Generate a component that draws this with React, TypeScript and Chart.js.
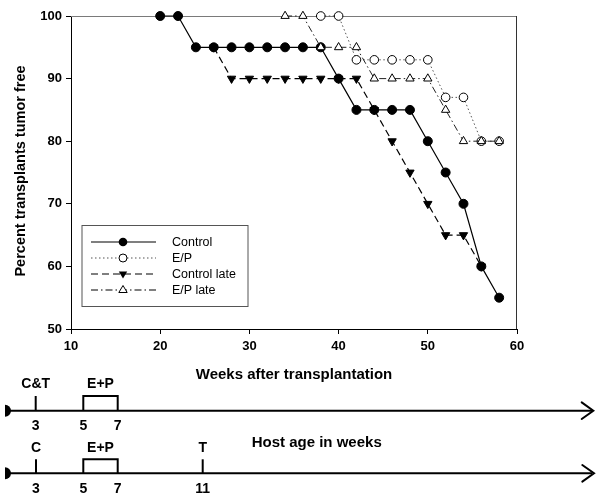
import React, { useEffect, useRef } from "react";
import { Chart, registerables } from "chart.js";

Chart.register(...registerables);

// ---- Data ----
const controlWeeks = [20, 22, 24, 26, 28, 30, 32, 34, 36, 38, 40, 42, 44, 46, 48, 50, 52, 54, 56, 58];
const controlValues = [100, 100, 95, 95, 95, 95, 95, 95, 95, 95, 90, 85, 85, 85, 85, 80, 75, 70, 60, 55];
const epWeeks = [38, 40, 42, 44, 46, 48, 50, 52, 54, 56, 58];
const epValues = [100, 100, 93, 93, 93, 93, 93, 87, 87, 80, 80];
const controlLateWeeks = [26, 28, 30, 32, 34, 36, 38, 40, 42, 44, 46, 48, 50, 52, 54, 56];
const controlLateValues = [95, 90, 90, 90, 90, 90, 90, 90, 90, 85, 80, 75, 70, 65, 65, 60];
const epLateWeeks = [34, 36, 38, 40, 42, 44, 46, 48, 50, 52, 54, 56, 58];
const epLateValues = [100, 100, 95, 95, 95, 90, 90, 90, 90, 85, 80, 80, 80];
const seriesNames = ["Control", "E/P", "Control late", "E/P late"];
const xMin = 10;
const xMax = 60;
const xStep = 10;
const yMin = 50;
const yMax = 100;
const yStep = 10;
const xTitle = "Weeks after transplantation";
const yTitle = "Percent transplants tumor free";
const timeline1Labels = ["C&T", "E+P"];
const timeline1Numbers = ["3", "5", "7"];
const timeline2Labels = ["C", "E+P", "T"];
const timeline2Numbers = ["3", "5", "7", "11"];
const timeline2Title = "Host age in weeks";

const FONT = '"Liberation Sans", Arial, Helvetica, sans-serif';

const pts = (xs: number[], ys: number[]) => xs.map((x, i) => ({ x, y: ys[i] }));

const framePlugin = {
  id: "frame",
  beforeDatasetsDraw(chart: any) {
    const { ctx, chartArea } = chart;
    const { left, top, right, bottom } = chartArea;
    ctx.save();
    ctx.lineWidth = 1;
    ctx.strokeStyle = "#7a7a7a";
    ctx.beginPath();
    ctx.moveTo(left, Math.round(top) + 0.5);
    ctx.lineTo(right, Math.round(top) + 0.5);
    ctx.stroke();
    ctx.strokeStyle = "#333";
    ctx.beginPath();
    ctx.moveTo(Math.round(right) - 0.5, top);
    ctx.lineTo(Math.round(right) - 0.5, bottom);
    ctx.stroke();
    ctx.restore();
  },
};

const dashControlLate = [7, 4];
const dashEP = [1.5, 2.5];
const dashEPLate = [7, 3, 1.5, 3];

function ChartCanvas() {
  const ref = useRef<HTMLCanvasElement | null>(null);
  useEffect(() => {
    if (!ref.current) return;
    const tickFont = { family: FONT, size: 13, weight: "bold" as const };
    const chart = new Chart(ref.current, {
      type: "line",
      data: {
        datasets: [
          {
            label: seriesNames[3],
            data: pts(epLateWeeks, epLateValues),
            borderColor: "#222",
            borderWidth: 1,
            borderDash: dashEPLate,
            pointStyle: "triangle",
            pointRadius: 4.8,
            pointBackgroundColor: "#fff",
            pointBorderColor: "#000",
            pointBorderWidth: 1,
            order: 0,
            clip: false,
          } as any,
          {
            label: seriesNames[0],
            data: pts(controlWeeks, controlValues),
            borderColor: "#000",
            borderWidth: 1.2,
            pointStyle: "circle",
            pointRadius: 4.5,
            pointBackgroundColor: "#000",
            pointBorderColor: "#000",
            pointBorderWidth: 1,
            order: 1,
            clip: false,
          } as any,
          {
            label: seriesNames[1],
            data: pts(epWeeks, epValues),
            borderColor: "#555",
            borderWidth: 1,
            borderDash: dashEP,
            pointStyle: "circle",
            pointRadius: 4.3,
            pointBackgroundColor: "#fff",
            pointBorderColor: "#000",
            pointBorderWidth: 1,
            order: 2,
            clip: false,
          } as any,
          {
            label: seriesNames[2],
            data: pts(controlLateWeeks, controlLateValues),
            borderColor: "#000",
            borderWidth: 1.2,
            borderDash: dashControlLate,
            pointStyle: "triangle",
            pointRotation: 180,
            pointRadius: 4.8,
            pointBackgroundColor: "#000",
            pointBorderColor: "#000",
            pointBorderWidth: 1,
            order: 3,
            clip: false,
          } as any,
        ],
      },
      options: {
        animation: false,
        responsive: false,
        maintainAspectRatio: false,
        devicePixelRatio: 1,
        layout: { padding: { left: 0, top: 16, right: 83, bottom: 0 } },
        plugins: { legend: { display: false }, tooltip: { enabled: false }, title: { display: false } },
        elements: { line: { tension: 0 } },
        scales: {
          x: {
            type: "linear",
            min: xMin,
            max: xMax,
            ticks: { stepSize: xStep, font: tickFont, color: "#000", padding: 5, maxRotation: 0 },
            grid: { display: true, drawOnChartArea: false, drawTicks: true, tickLength: 5, color: "#000" },
            border: { display: true, color: "#000", width: 1 },
            afterFit: (s: any) => {
              s.height = 172;
            },
          },
          y: {
            type: "linear",
            min: yMin,
            max: yMax,
            ticks: { stepSize: yStep, font: tickFont, color: "#000", padding: 4 },
            grid: { display: true, drawOnChartArea: false, drawTicks: true, tickLength: 5, color: "#000" },
            border: { display: true, color: "#000", width: 1 },
            afterFit: (s: any) => {
              s.width = 71;
            },
          },
        },
      },
      plugins: [framePlugin],
    });
    return () => chart.destroy();
  }, []);
  return (
    <canvas
      ref={ref}
      width={600}
      height={501}
      style={{ position: "absolute", left: 0, top: 0, width: 600, height: 501 }}
    />
  );
}

function LegendSample({ y, dash, marker }: { y: number; dash?: number[]; marker: string }) {
  const x1 = 91;
  const x2 = 156;
  const cx = 123;
  let m: any = null;
  if (marker === "fcircle") m = <circle cx={cx} cy={y} r={4.3} fill="#000" />;
  if (marker === "ocircle") m = <circle cx={cx} cy={y} r={4} fill="#fff" stroke="#000" strokeWidth={1} />;
  if (marker === "dtri")
    m = <polygon points={`${cx - 4.2},${y - 2.5} ${cx + 4.2},${y - 2.5} ${cx},${y + 4.5}`} fill="#000" />;
  if (marker === "utri")
    m = (
      <polygon
        points={`${cx - 4.2},${y + 2.5} ${cx + 4.2},${y + 2.5} ${cx},${y - 4.5}`}
        fill="#fff"
        stroke="#000"
        strokeWidth={1}
      />
    );
  return (
    <g>
      <line
        x1={x1}
        y1={y}
        x2={x2}
        y2={y}
        stroke={marker === "ocircle" ? "#555" : "#000"}
        strokeWidth={1.2}
        strokeDasharray={dash ? dash.join(" ") : undefined}
      />
      {m}
    </g>
  );
}

function Overlay() {
  const rows = [242, 258, 274, 290];
  const bold14 = { fontFamily: FONT, fontWeight: 700, fontSize: 14 } as any;
  const line1 = 410.7;
  const line2 = 473.3;
  const xs1 = [35.7, 83.3, 117.7];
  const xs2 = [36, 83.3, 117.7, 202.7];
  return (
    <svg
      width={600}
      height={501}
      style={{ position: "absolute", left: 0, top: 0, pointerEvents: "none" }}
    >
      {/* axis titles */}
      <text
        x={20}
        y={171}
        transform="rotate(-90 20 171)"
        textAnchor="middle"
        dominantBaseline="central"
        style={{ fontFamily: FONT, fontWeight: 700, fontSize: 14.5 }}
        fill="#000"
      >
        {yTitle}
      </text>
      <text
        x={294}
        y={373}
        textAnchor="middle"
        dominantBaseline="central"
        style={{ fontFamily: FONT, fontWeight: 700, fontSize: 15 }}
        fill="#000"
      >
        {xTitle}
      </text>

      {/* legend */}
      <rect x={82} y={225.5} width={166} height={81} fill="#fff" stroke="#555" strokeWidth={1} />
      <LegendSample y={rows[0]} marker="fcircle" />
      <LegendSample y={rows[1]} marker="ocircle" dash={dashEP} />
      <LegendSample y={rows[2]} marker="dtri" dash={dashControlLate} />
      <LegendSample y={rows[3]} marker="utri" dash={dashEPLate} />
      {seriesNames.map((n, i) => (
        <text
          key={n}
          x={172}
          y={rows[i]}
          dominantBaseline="central"
          style={{ fontFamily: FONT, fontSize: 12.5 }}
          fill="#000"
        >
          {n}
        </text>
      ))}

      {/* timeline 1 */}
      <g stroke="#000" strokeWidth={2} fill="none">
        <line x1={6} y1={line1} x2={592} y2={line1} />
        <line x1={xs1[0]} y1={line1} x2={xs1[0]} y2={396} />
        <polyline points={`${xs1[1]},${line1} ${xs1[1]},396 ${xs1[2]},396 ${xs1[2]},${line1}`} />
        <polyline points={`581.7,402.4 593.3,${line1} 581.7,419`} strokeLinecap="round" />
      </g>
      <path d={`M5,${line1 - 6} A6,6 0 0 1 5,${line1 + 6} Z`} fill="#000" />
      <text x={xs1[0]} y={382.7} textAnchor="middle" dominantBaseline="central" style={bold14}>
        {timeline1Labels[0]}
      </text>
      <text x={100.5} y={382.7} textAnchor="middle" dominantBaseline="central" style={bold14}>
        {timeline1Labels[1]}
      </text>
      {timeline1Numbers.map((n, i) => (
        <text key={"t1" + i} x={xs1[i]} y={425} textAnchor="middle" dominantBaseline="central" style={bold14}>
          {n}
        </text>
      ))}

      {/* timeline 2 */}
      <g stroke="#000" strokeWidth={2} fill="none">
        <line x1={6} y1={line2} x2={592} y2={line2} />
        <line x1={xs2[0]} y1={line2} x2={xs2[0]} y2={459.3} />
        <polyline points={`${xs2[1]},${line2} ${xs2[1]},459.3 ${xs2[2]},459.3 ${xs2[2]},${line2}`} />
        <line x1={xs2[3]} y1={line2} x2={xs2[3]} y2={459.3} />
        <polyline points={`582.3,465 594,${line2} 582.3,481.6`} strokeLinecap="round" />
      </g>
      <path d={`M5,${line2 - 6} A6,6 0 0 1 5,${line2 + 6} Z`} fill="#000" />
      <text x={xs2[0]} y={446.7} textAnchor="middle" dominantBaseline="central" style={bold14}>
        {timeline2Labels[0]}
      </text>
      <text x={100.5} y={446.7} textAnchor="middle" dominantBaseline="central" style={bold14}>
        {timeline2Labels[1]}
      </text>
      <text x={xs2[3]} y={446.7} textAnchor="middle" dominantBaseline="central" style={bold14}>
        {timeline2Labels[2]}
      </text>
      <text
        x={251.7}
        y={441.7}
        dominantBaseline="central"
        style={{ fontFamily: FONT, fontWeight: 700, fontSize: 15 }}
      >
        {timeline2Title}
      </text>
      {timeline2Numbers.map((n, i) => (
        <text key={"t2" + i} x={xs2[i]} y={488.3} textAnchor="middle" dominantBaseline="central" style={bold14}>
          {n}
        </text>
      ))}
    </svg>
  );
}

export default function App() {
  return (
    <div
      style={{
        position: "absolute",
        left: 0,
        top: 0,
        width: 600,
        height: 501,
        background: "#fff",
        overflow: "hidden",
      }}
    >
      <ChartCanvas />
      <Overlay />
    </div>
  );
}
